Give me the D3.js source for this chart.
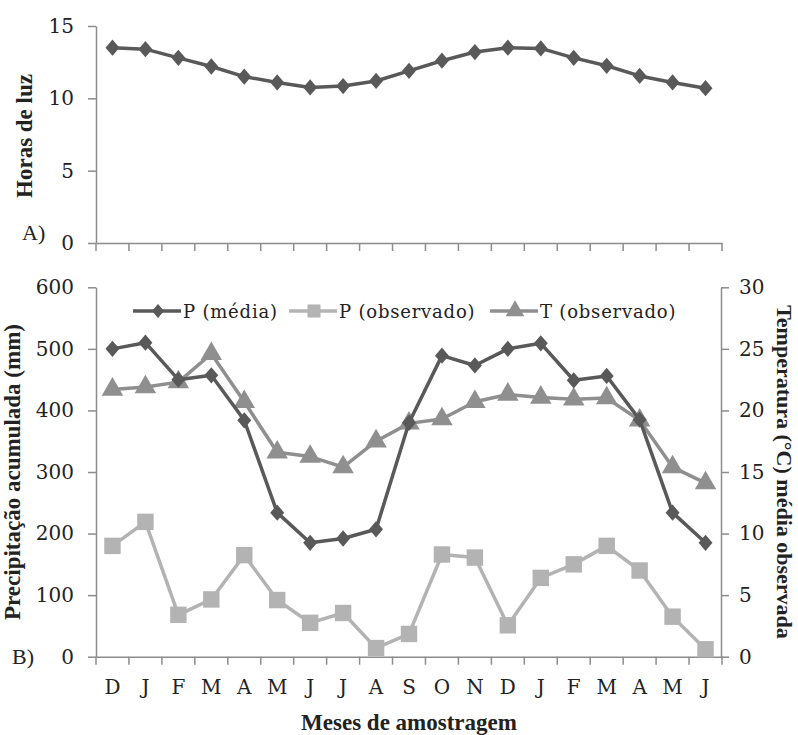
<!DOCTYPE html>
<html><head><meta charset="utf-8">
<script src="https://cdn.jsdelivr.net/npm/d3@7"></script>
<style>body{margin:0;background:#fff} svg text{font-family:"Liberation Serif","DejaVu Serif",serif}</style>
</head><body>
<script>
const months = ["D","J","F","M","A","M","J","J","A","S","O","N","D","J","F","M","A","M","J"];
const horasLuz = [13.5,13.4,12.8,12.2,11.5,11.1,10.75,10.85,11.2,11.9,12.6,13.2,13.5,13.45,12.8,12.25,11.55,11.1,10.7];
const pMedia = [500,510,450,457,384,234,185,192,207,380,489,473,500,509,449,456,385,234,185];
const pObservado = [180,219,68,93,165,92,55,71,14,37,166,161,51,128,150,180,140,65,12];
const tObservado = [21.7,21.9,22.3,24.6,20.7,16.6,16.25,15.4,17.5,18.95,19.3,20.7,21.3,21.05,20.9,21.0,19.2,15.4,14.1];
const topTicks = [0,5,10,15];
const leftTicks = [0,100,200,300,400,500,600];
const rightTicks = [0,5,10,15,20,25,30];

const W=798,H=735;
const svg=d3.select("body").append("svg").attr("width",W).attr("height",H);
const serif="Liberation Serif";
const tickFont="DejaVu Serif";
const axisCol="#8c8c8c", dark="#595959", light="#b3b3b3", mid="#8f8f8f";

const xL=96,xR=722;
const idx=d3.range(months.length);
const x=d3.scaleBand().domain(idx).range([xL,xR]);
const xc=i=>x(i)+x.bandwidth()/2;

const yTop=d3.scaleLinear().domain([0,15]).range([243,26]);
const yL=d3.scaleLinear().domain([0,600]).range([656.7,287.3]);
const yR=d3.scaleLinear().domain([0,30]).range([656.7,287.3]);

// Excel-like diamond (slightly taller than wide)
const excelDiamond={draw(ctx,size){const r=Math.sqrt(size/2);const w=r*0.9,h=r*1.05;
  ctx.moveTo(0,-h);ctx.lineTo(w,0);ctx.lineTo(0,h);ctx.lineTo(-w,0);ctx.closePath();}};

function styleAxis(g,fs){
  g.attr("font-family",null);
  g.selectAll("path.domain").attr("stroke",axisCol).attr("stroke-width",1.5);
  g.selectAll(".tick line").attr("stroke",axisCol).attr("stroke-width",1.5);
  g.selectAll(".tick text").style("font-family",tickFont).attr("font-size",fs).attr("fill","#222");
}
const gTy=svg.append("g").attr("transform",`translate(${xL},0)`)
  .call(d3.axisLeft(yTop).tickValues(topTicks).tickSize(8).tickPadding(14).tickSizeOuter(0));
styleAxis(gTy,20);
const gTx=svg.append("g").attr("transform",`translate(0,${yTop(0)})`)
  .call(d3.axisBottom(x).tickValues([]).tickSizeOuter(0));
styleAxis(gTx,20);
function boundTicks(y0){
  svg.append("g").selectAll("line").data(d3.range(months.length+1)).join("line")
    .attr("x1",i=>xL+i*x.step()).attr("x2",i=>xL+i*x.step())
    .attr("y1",y0).attr("y2",y0+8).attr("stroke",axisCol).attr("stroke-width",1.5);
}
boundTicks(yTop(0));

const sym=(t,s)=>d3.symbol().type(t).size(s)();
function series(data,xf,yf,color,type,size,w){
  svg.append("path").datum(data)
    .attr("d",d3.line().x((d,i)=>xf(i)).y(d=>yf(d)))
    .attr("fill","none").attr("stroke",color).attr("stroke-width",w).attr("stroke-linejoin","round");
  svg.append("g").selectAll("path").data(data).join("path")
    .attr("transform",(d,i)=>`translate(${xf(i)},${yf(d)})`)
    .attr("d",sym(type,size)).attr("fill",color);
}
series(horasLuz,xc,yTop,dark,excelDiamond,120,3.5);

const gBy=svg.append("g").attr("transform",`translate(${xL},0)`)
  .call(d3.axisLeft(yL).tickValues(leftTicks).tickSize(8).tickPadding(14).tickSizeOuter(0));
styleAxis(gBy,20);
const gBr=svg.append("g").attr("transform",`translate(${xR-1},0)`)
  .call(d3.axisRight(yR).tickValues(rightTicks).tickSize(8).tickPadding(10).tickSizeOuter(0));
styleAxis(gBr,20);
const gBx=svg.append("g").attr("transform",`translate(0,${yL(0)})`)
  .call(d3.axisBottom(x).tickFormat(i=>months[i]).tickSize(0).tickPadding(30).tickSizeOuter(0));
styleAxis(gBx,20);
gBx.selectAll(".tick text").attr("dy","0.35em").attr("font-weight","300");
boundTicks(yL(0));

series(pObservado,xc,yL,light,d3.symbolSquare,270,3.5);
series(tObservado,xc,yR,mid,d3.symbolTriangle,200,3.5);
series(pMedia,xc,yL,dark,excelDiamond,120,3.5);

const legend=[
  {name:"P (média)",color:dark,type:excelDiamond,size:90,x0:133},
  {name:"P (observado)",color:light,type:d3.symbolSquare,size:170,x0:289},
  {name:"T (observado)",color:mid,type:d3.symbolTriangle,size:150,x0:490}
];
const lg=svg.append("g");
legend.forEach(l=>{
  const ly=311;
  lg.append("line").attr("x1",l.x0).attr("x2",l.x0+48).attr("y1",ly).attr("y2",ly)
    .attr("stroke",l.color).attr("stroke-width",3.5);
  lg.append("path").attr("transform",`translate(${l.x0+25},${ly})`).attr("d",sym(l.type,l.size)).attr("fill",l.color);
  lg.append("text").attr("x",l.x0+50).attr("y",ly+7).text(l.name)
    .style("font-family",tickFont).attr("font-size",18).attr("letter-spacing","0.8px").attr("fill","#222");
});

const tt=(txt,xx,yy,rot,fs,anchor)=>svg.append("text").attr("transform",`translate(${xx},${yy}) rotate(${rot})`)
  .attr("text-anchor",anchor||"middle").style("font-family",serif).attr("font-weight","bold")
  .attr("font-size",fs).attr("fill","#222").text(txt);
tt("Horas de luz",32,136,-90,23);
tt("Precipitação acumulada (mm)",20,472,-90,23);
tt("Temperatura (°C) média observada",777,472,90,22);
tt("Meses de amostragem",409,730,0,23);
tt("A)",22,240,0,22,"start").attr("font-weight","normal");
tt("B)",12,664,0,22,"start").attr("font-weight","normal");
</script>
</body></html>
